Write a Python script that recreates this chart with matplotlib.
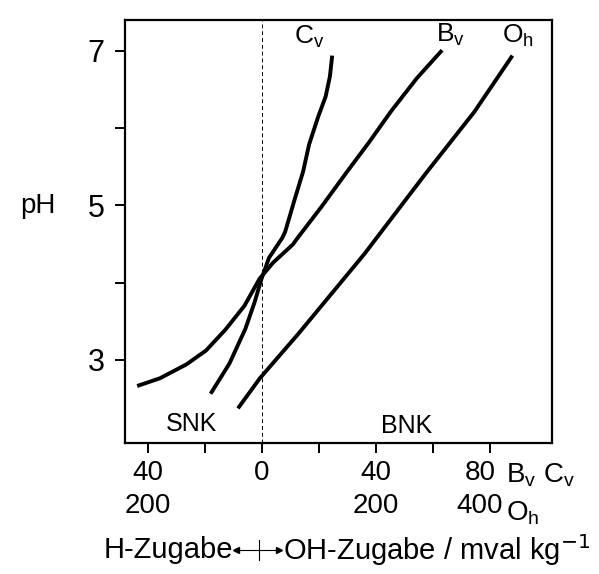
import numpy as np
import matplotlib.pyplot as plt
import matplotlib.transforms as mtransforms

plt.rcParams['font.family'] = ['Liberation Sans', 'DejaVu Sans']

# titration curves, x in mval/kg (negative = H-Zugabe), y = pH
cv_x = [-18.0, -11.4, -5.8, -2.6, -0.1, 2.5, 7.2, 8.2, 11.3, 14.5, 16.6, 19.8, 22.4, 23.9, 24.7]
cv_ph = [2.56, 2.95, 3.40, 3.74, 4.05, 4.32, 4.58, 4.66, 5.05, 5.44, 5.79, 6.15, 6.41, 6.67, 6.94]

bv_x = [-43.8, -35.8, -26.5, -19.6, -12.8, -6.1, -0.8, 4.0, 10.8, 12.8, 20.9, 29.6, 37.7, 45.4, 54.5, 63.3]
bv_ph = [2.66, 2.76, 2.94, 3.12, 3.39, 3.70, 4.05, 4.26, 4.49, 4.59, 4.98, 5.42, 5.82, 6.22, 6.65, 7.01]

# O_h is on a 5x coarser scale (400 at the position of 80)
oh_x = [-42, -3.5, 64.5, 180, 288.5, 373, 440]
oh_ph = [2.37, 2.76, 3.34, 4.37, 5.42, 6.21, 6.94]

fig = plt.figure(figsize=(5.99, 5.74), dpi=100)
ax = fig.add_axes([0.209, 0.228, 0.713, 0.737])

style = dict(color='black', lw=2.8, solid_capstyle='butt', solid_joinstyle='round')
ax.plot(cv_x, cv_ph, **style)
ax.plot(bv_x, bv_ph, **style)
ax.plot(np.array(oh_x) / 5, oh_ph, **style)
ax.axvline(0, color='black', lw=0.7, ls=(0, (4, 3)))

ax.set_xlim(-48, 102)
ax.set_ylim(1.92, 7.4)

for s in ax.spines.values():
    s.set_linewidth(1.6)

ax.set_yticks([3, 4, 5, 6, 7])
ax.set_yticklabels(['3', '', '5', '', '7'], fontsize=22)
ax.set_xticks([-40, -20, 0, 20, 40, 60, 80])
ax.set_xticklabels(['40\n200', '', '0', '', '40\n200', '', '80\n400'], fontsize=20, va='top')
plt.setp(ax.get_xticklabels(), linespacing=1.35)
ax.tick_params(direction='out', length=7, width=1.4, pad=5)
ax.tick_params(axis='y', pad=8)

# the 80/400 label sits a little left of its tick
lab80 = ax.get_xticklabels()[-1]
lab80.set_transform(lab80.get_transform() + mtransforms.ScaledTranslation(-7 / 72, 0, fig.dpi_scale_trans))

ax.text(-0.205, 0.56, 'pH', transform=ax.transAxes, fontsize=20, ha='center', va='center')

ax.text(16.5, 7.19, 'C$_\\mathregular{v}$', fontsize=19, ha='center', va='center')
ax.text(66.3, 7.21, 'B$_\\mathregular{v}$', fontsize=19, ha='center', va='center')
ax.text(90, 7.2, 'O$_\\mathregular{h}$', fontsize=19, ha='center', va='center')
ax.text(-24.8, 2.17, 'SNK', fontsize=18, ha='center', va='center')
ax.text(50.7, 2.14, 'BNK', fontsize=18, ha='center', va='center')

# unit hints next to the tick labels
ax.text(85.8, -0.075, 'B$_\\mathregular{v}$ C$_\\mathregular{v}$', transform=ax.get_xaxis_transform(),
        fontsize=20, ha='left', va='center', clip_on=False)
ax.text(85.8, -0.165, 'O$_\\mathregular{h}$', transform=ax.get_xaxis_transform(),
        fontsize=20, ha='left', va='center', clip_on=False)

# bottom caption with the double arrow
fig.text(0.389, 0.042, 'H-Zugabe', fontsize=21, ha='right', va='center')
fig.text(0.472, 0.042, 'OH-Zugabe / mval kg$^{-1}$', fontsize=21, ha='left', va='center')
fig.add_artist(plt.Line2D([0.392, 0.468], [0.042, 0.042], color='black', lw=0.8))
fig.add_artist(plt.Line2D([0.432, 0.432], [0.024, 0.060], color='black', lw=0.8))
fig.add_artist(plt.Line2D([0.394], [0.042], marker='<', ms=4, color='black'))
fig.add_artist(plt.Line2D([0.466], [0.042], marker='>', ms=4, color='black'))

fig.savefig('out.png', dpi=100)
